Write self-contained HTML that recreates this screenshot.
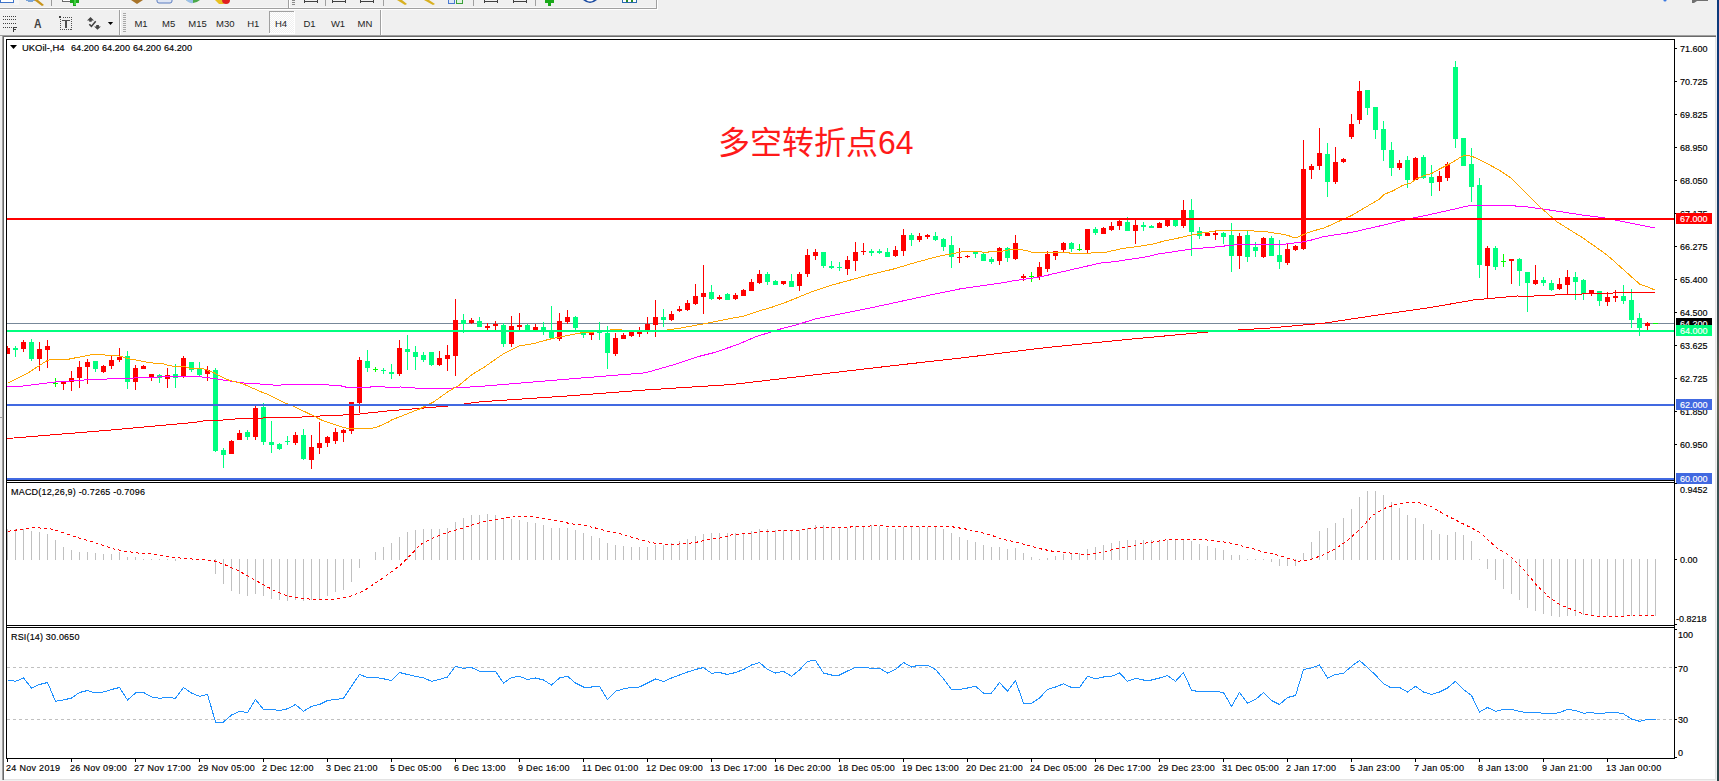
<!DOCTYPE html>
<html><head><meta charset="utf-8"><title>UKOil H4</title>
<style>html,body{margin:0;padding:0;background:#f0f0f0;} body{width:1719px;height:781px;overflow:hidden;} svg{display:block;} text{white-space:pre;}</style>
</head><body>
<svg width="1719" height="781" viewBox="0 0 1719 781" shape-rendering="crispEdges" font-family="'Liberation Sans', Arial, sans-serif">
<rect x="0" y="0" width="1719" height="781" fill="#f0f0f0"/>
<g id="tb1">
<rect x="0" y="7" width="657" height="1" fill="#f8f8f8"/>
<rect x="0" y="8" width="657" height="1" fill="#a0a0a0"/>
<rect x="0" y="9" width="658" height="1" fill="#ffffff"/>
<rect x="0" y="0" width="14" height="3" fill="#3f74c9"/>
<rect x="1" y="0" width="12" height="2" fill="#ffffff"/>
<rect x="14" y="0" width="5" height="5" fill="#f6f6f6"/>
<path d="M25 0 Q30 4 36 0 Z" fill="#7aa4d8"/>
<path d="M34 0 L38 0 L44 5 L42 6 Z" fill="#c8941a" shape-rendering="auto"/>
<rect x="51" y="0" width="1" height="6" fill="#9a9a9a"/>
<rect x="62" y="0" width="9" height="2" fill="#6a6a6a"/>
<rect x="63" y="0" width="7" height="1" fill="#ffffff"/>
<rect x="70" y="0" width="9" height="3" fill="#1aa81a"/>
<rect x="73" y="0" width="3" height="6" fill="#1aa81a"/>
<rect x="74" y="0" width="2" height="5" fill="#40d040"/>
<path d="M131 0 L143 0 L137 4 Z" fill="#a8742a" shape-rendering="auto"/>
<rect x="157" y="-4" width="15" height="7" rx="2" fill="#dfe6f4" stroke="#5a7cc0" shape-rendering="auto"/>
<path d="M186 0 Q193 6 200 0 Z" fill="#4aa84a" shape-rendering="auto"/><path d="M186 0 Q189 4 193 3 L193 0 Z" fill="#9cc0ea" shape-rendering="auto"/>
<path d="M215 0 L222 0 L224 4 L219 4 Z" fill="#e8c020" shape-rendering="auto"/><circle cx="226" cy="0" r="4" fill="#e02020" shape-rendering="auto"/>
<rect x="288" y="0" width="1" height="8" fill="#a0a0a0"/>
<rect x="289" y="0" width="1" height="8" fill="#ffffff"/>
<rect x="292" y="0" width="3" height="1" fill="#8a8a8a"/>
<rect x="292" y="2" width="3" height="1" fill="#8a8a8a"/>
<rect x="292" y="4" width="3" height="1" fill="#8a8a8a"/>
<rect x="304" y="1" width="14" height="1" fill="#404040"/>
<rect x="304" y="-1" width="1" height="4" fill="#404040"/>
<rect x="317" y="-1" width="1" height="4" fill="#404040"/>
<rect x="325" y="0" width="1" height="6" fill="#a0a0a0"/>
<rect x="332" y="1" width="14" height="1" fill="#404040"/>
<rect x="332" y="-1" width="1" height="4" fill="#404040"/>
<rect x="345" y="-1" width="1" height="4" fill="#404040"/>
<rect x="360" y="1" width="14" height="1" fill="#404040"/>
<rect x="360" y="-1" width="1" height="4" fill="#404040"/>
<rect x="373" y="-1" width="1" height="4" fill="#404040"/>
<rect x="383" y="0" width="1" height="6" fill="#a0a0a0"/>
<path d="M397 0 L402 0 L407 4 L405 5 Z" fill="#d8b020" shape-rendering="auto"/>
<path d="M424 0 L429 0 L435 4 L433 5 Z" fill="#d8b020" shape-rendering="auto"/>
<rect x="448" y="0" width="7" height="4" fill="#4a7ad0"/>
<rect x="449" y="0" width="5" height="3" fill="#dfe8f8"/>
<rect x="456" y="0" width="7" height="4" fill="#3aa03a"/>
<rect x="457" y="0" width="5" height="3" fill="#e0f4e0"/>
<rect x="473" y="0" width="1" height="6" fill="#a0a0a0"/>
<rect x="484" y="1" width="14" height="1" fill="#404040"/>
<rect x="484" y="-1" width="1" height="4" fill="#404040"/>
<rect x="497" y="-1" width="1" height="4" fill="#404040"/>
<rect x="513" y="1" width="14" height="1" fill="#404040"/>
<rect x="513" y="-1" width="1" height="4" fill="#404040"/>
<rect x="526" y="-1" width="1" height="4" fill="#404040"/>
<rect x="535" y="0" width="1" height="6" fill="#a0a0a0"/>
<rect x="545" y="0" width="9" height="3" fill="#1aa81a"/>
<rect x="548" y="0" width="3" height="6" fill="#1aa81a"/>
<path d="M583 0 Q590 6 597 0 Z" fill="#1a4aa0" shape-rendering="auto"/><path d="M586 0 Q590 3 594 0 Z" fill="#ffffff" shape-rendering="auto"/>
<rect x="622" y="0" width="15" height="3" fill="#2a6ab0"/>
<rect x="623" y="0" width="13" height="2" fill="#ffffff"/>
<rect x="626" y="0" width="2" height="2" fill="#2a8a2a"/>
<rect x="631" y="0" width="2" height="2" fill="#2a8a2a"/>
<rect x="656" y="0" width="1" height="9" fill="#a0a0a0"/>
<rect x="657" y="0" width="1" height="9" fill="#ffffff"/>
<circle cx="1665" cy="0" r="1.6" fill="#3a78e0" shape-rendering="auto"/>
<path d="M1692 0 L1700 0 L1708 0 L1708 1 L1697 1 L1694 3 L1692 3 Z" fill="#707070" shape-rendering="auto"/>
</g>
<g id="tb2">
<rect x="3" y="16" width="1" height="1" fill="#404040"/>
<rect x="5" y="16" width="1" height="1" fill="#404040"/>
<rect x="7" y="16" width="1" height="1" fill="#404040"/>
<rect x="9" y="16" width="1" height="1" fill="#404040"/>
<rect x="11" y="16" width="1" height="1" fill="#404040"/>
<rect x="13" y="16" width="1" height="1" fill="#404040"/>
<rect x="15" y="16" width="1" height="1" fill="#404040"/>
<rect x="3" y="19" width="1" height="1" fill="#404040"/>
<rect x="5" y="19" width="1" height="1" fill="#404040"/>
<rect x="7" y="19" width="1" height="1" fill="#404040"/>
<rect x="9" y="19" width="1" height="1" fill="#404040"/>
<rect x="11" y="19" width="1" height="1" fill="#404040"/>
<rect x="13" y="19" width="1" height="1" fill="#404040"/>
<rect x="15" y="19" width="1" height="1" fill="#404040"/>
<rect x="3" y="23" width="1" height="1" fill="#404040"/>
<rect x="5" y="23" width="1" height="1" fill="#404040"/>
<rect x="7" y="23" width="1" height="1" fill="#404040"/>
<rect x="9" y="23" width="1" height="1" fill="#404040"/>
<rect x="11" y="23" width="1" height="1" fill="#404040"/>
<rect x="13" y="23" width="1" height="1" fill="#404040"/>
<rect x="15" y="23" width="1" height="1" fill="#404040"/>
<rect x="3" y="27" width="1" height="1" fill="#404040"/>
<rect x="5" y="27" width="1" height="1" fill="#404040"/>
<rect x="7" y="27" width="1" height="1" fill="#404040"/>
<rect x="9" y="27" width="1" height="1" fill="#404040"/>
<rect x="11" y="27" width="1" height="1" fill="#404040"/>
<rect x="13" y="27" width="1" height="5" fill="#383838"/>
<rect x="13" y="27" width="4" height="1" fill="#404040"/>
<rect x="13" y="29" width="3" height="1" fill="#404040"/>
<text x="34" y="28" font-size="12.5" fill="#404040" font-weight="bold" textLength="7.5" lengthAdjust="spacingAndGlyphs">A</text>
<rect x="59" y="16" width="2" height="2" fill="#404040"/>
<rect x="63" y="17" width="1" height="1" fill="#505050"/>
<rect x="65" y="17" width="1" height="1" fill="#505050"/>
<rect x="67" y="17" width="1" height="1" fill="#505050"/>
<rect x="69" y="17" width="1" height="1" fill="#505050"/>
<rect x="71" y="17" width="1" height="1" fill="#505050"/>
<rect x="60" y="19" width="1" height="1" fill="#505050"/>
<rect x="71" y="19" width="1" height="1" fill="#505050"/>
<rect x="60" y="21" width="1" height="1" fill="#505050"/>
<rect x="71" y="21" width="1" height="1" fill="#505050"/>
<rect x="60" y="23" width="1" height="1" fill="#505050"/>
<rect x="71" y="23" width="1" height="1" fill="#505050"/>
<rect x="60" y="25" width="1" height="1" fill="#505050"/>
<rect x="71" y="25" width="1" height="1" fill="#505050"/>
<rect x="60" y="27" width="1" height="1" fill="#505050"/>
<rect x="71" y="27" width="1" height="1" fill="#505050"/>
<rect x="60" y="29" width="1" height="1" fill="#505050"/>
<rect x="71" y="29" width="1" height="1" fill="#505050"/>
<rect x="62" y="29" width="1" height="1" fill="#505050"/>
<rect x="64" y="29" width="1" height="1" fill="#505050"/>
<rect x="66" y="29" width="1" height="1" fill="#505050"/>
<rect x="68" y="29" width="1" height="1" fill="#505050"/>
<rect x="70" y="29" width="1" height="1" fill="#505050"/>
<rect x="62" y="20" width="8" height="1" fill="#505050"/>
<rect x="65" y="20" width="2" height="8" fill="#505050"/>
<path d="M87 20.5 L90.5 17 L94 20.5 L91.7 20.5 L91.7 21.7 L89.2 21.7 L89.2 20.5 Z" fill="#454545" shape-rendering="auto"/>
<path d="M96.2 25 L98.9 25 L98.9 26.4 L100.9 26.4 L97.5 29.8 L94.1 26.4 L96.2 26.4 Z" fill="#454545" shape-rendering="auto"/>
<path d="M89.3 24.3 L91.4 26.4 L95.7 21.3" stroke="#404040" stroke-width="1.6" fill="none" shape-rendering="auto"/>
<path d="M107.9 22 L113.1 22 L110.5 25 Z" fill="#000" shape-rendering="auto"/>
<rect x="119" y="10" width="1" height="25" fill="#a0a0a0"/>
<rect x="120" y="10" width="1" height="25" fill="#ffffff"/>
<rect x="123" y="13" width="3" height="1" fill="#a8a8a8"/>
<rect x="123" y="15" width="3" height="1" fill="#a8a8a8"/>
<rect x="123" y="17" width="3" height="1" fill="#a8a8a8"/>
<rect x="123" y="19" width="3" height="1" fill="#a8a8a8"/>
<rect x="123" y="21" width="3" height="1" fill="#a8a8a8"/>
<rect x="123" y="23" width="3" height="1" fill="#a8a8a8"/>
<rect x="123" y="25" width="3" height="1" fill="#a8a8a8"/>
<rect x="123" y="27" width="3" height="1" fill="#a8a8a8"/>
<rect x="123" y="29" width="3" height="1" fill="#a8a8a8"/>
<rect x="123" y="31" width="3" height="1" fill="#a8a8a8"/>
<defs><pattern id="chk" x="0" y="0" width="2" height="2" patternUnits="userSpaceOnUse"><rect width="2" height="2" fill="#f0f0f0"/><rect width="1" height="1" fill="#ffffff"/><rect x="1" y="1" width="1" height="1" fill="#ffffff"/></pattern></defs>
<rect x="270" y="12" width="24" height="21" fill="url(#chk)"/>
<rect x="269" y="11" width="25" height="1" fill="#a0a0a0"/>
<rect x="269" y="11" width="1" height="22" fill="#a0a0a0"/>
<rect x="294" y="11" width="1" height="23" fill="#ffffff"/>
<rect x="269" y="33" width="26" height="1" fill="#ffffff"/>
<text x="141" y="27" font-size="9.5" fill="#1e1e1e" text-anchor="middle">M1</text>
<text x="168.6" y="27" font-size="9.5" fill="#1e1e1e" text-anchor="middle">M5</text>
<text x="197.5" y="27" font-size="9.5" fill="#1e1e1e" text-anchor="middle">M15</text>
<text x="225.3" y="27" font-size="9.5" fill="#1e1e1e" text-anchor="middle">M30</text>
<text x="253.3" y="27" font-size="9.5" fill="#1e1e1e" text-anchor="middle">H1</text>
<text x="281" y="27" font-size="9.5" fill="#1e1e1e" text-anchor="middle">H4</text>
<text x="309.5" y="27" font-size="9.5" fill="#1e1e1e" text-anchor="middle">D1</text>
<text x="338" y="27" font-size="9.5" fill="#1e1e1e" text-anchor="middle">W1</text>
<text x="365" y="27" font-size="9.5" fill="#1e1e1e" text-anchor="middle">MN</text>
<rect x="380" y="10" width="1" height="25" fill="#a0a0a0"/>
<rect x="381" y="10" width="1" height="25" fill="#ffffff"/>
</g>
<rect x="0" y="35" width="1716" height="1" fill="#a0a0a0"/>
<rect x="2" y="36" width="1714" height="1" fill="#696969"/>
<rect x="2" y="35" width="1" height="745" fill="#a0a0a0"/>
<rect x="3" y="36" width="1" height="744" fill="#696969"/>
<rect x="4" y="37" width="1711" height="742" fill="#ffffff"/>
<rect x="4" y="779" width="1712" height="1" fill="#e3e3e3"/>
<rect x="1715" y="37" width="1" height="743" fill="#e3e3e3"/>
<rect x="1716" y="0" width="1" height="781" fill="#f0f0f0"/>
<defs><linearGradient id="edge" x1="0" y1="0" x2="0" y2="1"><stop offset="0" stop-color="#0c3a7c"/><stop offset="0.22" stop-color="#123a70"/><stop offset="0.4" stop-color="#3c4c52"/><stop offset="0.5" stop-color="#6a6a58"/><stop offset="0.62" stop-color="#3a5252"/><stop offset="0.78" stop-color="#345a58"/><stop offset="1" stop-color="#2a4448"/></linearGradient></defs>
<rect x="1717" y="0" width="2" height="781" fill="url(#edge)"/>
<rect x="0" y="417" width="2" height="1" fill="#a0a0a0"/>
<defs>
<clipPath id="cm"><rect x="7" y="40" width="1667" height="440"/></clipPath>
<clipPath id="cd"><rect x="7" y="483" width="1667" height="142"/></clipPath>
<clipPath id="cr"><rect x="7" y="628" width="1667" height="130"/></clipPath>
</defs>
<g clip-path="url(#cm)">
<rect x="7" y="323" width="1667" height="1" fill="#778899"/>
<rect x="7" y="346" width="1" height="8" fill="#ff0000"/>
<rect x="5" y="348" width="5" height="6" fill="#ff0000"/>
<rect x="15" y="346" width="1" height="11" fill="#00ff7f"/>
<rect x="13" y="348" width="5" height="2" fill="#00ff7f"/>
<rect x="23" y="340" width="1" height="12" fill="#ff0000"/>
<rect x="21" y="342" width="5" height="7" fill="#ff0000"/>
<rect x="31" y="339" width="1" height="22" fill="#00ff7f"/>
<rect x="29" y="342" width="5" height="17" fill="#00ff7f"/>
<rect x="39" y="342" width="1" height="29" fill="#ff0000"/>
<rect x="37" y="349" width="5" height="10" fill="#ff0000"/>
<rect x="47" y="340" width="1" height="28" fill="#ff0000"/>
<rect x="45" y="346" width="5" height="4" fill="#ff0000"/>
<rect x="55" y="378" width="1" height="9" fill="#00ff00"/>
<rect x="53" y="383" width="5" height="1" fill="#00ff00"/>
<rect x="63" y="382" width="1" height="8" fill="#ff0000"/>
<rect x="61" y="382" width="5" height="2" fill="#ff0000"/>
<rect x="71" y="371" width="1" height="20" fill="#ff0000"/>
<rect x="69" y="378" width="5" height="4" fill="#ff0000"/>
<rect x="79" y="361" width="1" height="27" fill="#ff0000"/>
<rect x="77" y="367" width="5" height="11" fill="#ff0000"/>
<rect x="87" y="359" width="1" height="25" fill="#ff0000"/>
<rect x="85" y="362" width="5" height="5" fill="#ff0000"/>
<rect x="95" y="361" width="1" height="11" fill="#00ff7f"/>
<rect x="93" y="361" width="5" height="8" fill="#00ff7f"/>
<rect x="103" y="365" width="1" height="8" fill="#ff0000"/>
<rect x="101" y="366" width="5" height="6" fill="#ff0000"/>
<rect x="111" y="356" width="1" height="13" fill="#ff0000"/>
<rect x="109" y="360" width="5" height="6" fill="#ff0000"/>
<rect x="119" y="348" width="1" height="14" fill="#ff0000"/>
<rect x="117" y="357" width="5" height="3" fill="#ff0000"/>
<rect x="127" y="351" width="1" height="38" fill="#00ff7f"/>
<rect x="125" y="356" width="5" height="26" fill="#00ff7f"/>
<rect x="135" y="365" width="1" height="25" fill="#ff0000"/>
<rect x="133" y="368" width="5" height="14" fill="#ff0000"/>
<rect x="143" y="365" width="1" height="4" fill="#ff0000"/>
<rect x="141" y="366" width="5" height="3" fill="#ff0000"/>
<rect x="151" y="374" width="1" height="7" fill="#ff0000"/>
<rect x="149" y="374" width="5" height="3" fill="#ff0000"/>
<rect x="159" y="374" width="1" height="9" fill="#00ff7f"/>
<rect x="157" y="375" width="5" height="3" fill="#00ff7f"/>
<rect x="167" y="368" width="1" height="20" fill="#ff0000"/>
<rect x="165" y="375" width="5" height="4" fill="#ff0000"/>
<rect x="175" y="364" width="1" height="24" fill="#00ff7f"/>
<rect x="173" y="374" width="5" height="4" fill="#00ff7f"/>
<rect x="183" y="356" width="1" height="22" fill="#ff0000"/>
<rect x="181" y="358" width="5" height="18" fill="#ff0000"/>
<rect x="191" y="362" width="1" height="10" fill="#00ff7f"/>
<rect x="189" y="362" width="5" height="8" fill="#00ff7f"/>
<rect x="199" y="362" width="1" height="14" fill="#00ff7f"/>
<rect x="197" y="368" width="5" height="7" fill="#00ff7f"/>
<rect x="207" y="366" width="1" height="15" fill="#ff0000"/>
<rect x="205" y="370" width="5" height="4" fill="#ff0000"/>
<rect x="215" y="368" width="1" height="84" fill="#00ff7f"/>
<rect x="213" y="370" width="5" height="81" fill="#00ff7f"/>
<rect x="223" y="448" width="1" height="20" fill="#00ff7f"/>
<rect x="221" y="450" width="5" height="5" fill="#00ff7f"/>
<rect x="231" y="440" width="1" height="14" fill="#ff0000"/>
<rect x="229" y="441" width="5" height="13" fill="#ff0000"/>
<rect x="239" y="430" width="1" height="10" fill="#ff0000"/>
<rect x="237" y="433" width="5" height="7" fill="#ff0000"/>
<rect x="247" y="430" width="1" height="10" fill="#00ff7f"/>
<rect x="245" y="432" width="5" height="5" fill="#00ff7f"/>
<rect x="255" y="406" width="1" height="34" fill="#ff0000"/>
<rect x="253" y="408" width="5" height="29" fill="#ff0000"/>
<rect x="263" y="403" width="1" height="42" fill="#00ff7f"/>
<rect x="261" y="407" width="5" height="35" fill="#00ff7f"/>
<rect x="271" y="421" width="1" height="32" fill="#00ff7f"/>
<rect x="269" y="442" width="5" height="3" fill="#00ff7f"/>
<rect x="279" y="443" width="1" height="7" fill="#00ff7f"/>
<rect x="277" y="444" width="5" height="5" fill="#00ff7f"/>
<rect x="287" y="436" width="1" height="9" fill="#00ff7f"/>
<rect x="285" y="441" width="5" height="1" fill="#00ff7f"/>
<rect x="295" y="432" width="1" height="13" fill="#ff0000"/>
<rect x="293" y="435" width="5" height="8" fill="#ff0000"/>
<rect x="303" y="429" width="1" height="31" fill="#00ff7f"/>
<rect x="301" y="435" width="5" height="24" fill="#00ff7f"/>
<rect x="311" y="435" width="1" height="34" fill="#ff0000"/>
<rect x="309" y="447" width="5" height="13" fill="#ff0000"/>
<rect x="319" y="422" width="1" height="32" fill="#ff0000"/>
<rect x="317" y="443" width="5" height="5" fill="#ff0000"/>
<rect x="327" y="436" width="1" height="11" fill="#ff0000"/>
<rect x="325" y="437" width="5" height="6" fill="#ff0000"/>
<rect x="335" y="428" width="1" height="16" fill="#ff0000"/>
<rect x="333" y="432" width="5" height="9" fill="#ff0000"/>
<rect x="343" y="429" width="1" height="13" fill="#ff0000"/>
<rect x="341" y="430" width="5" height="3" fill="#ff0000"/>
<rect x="351" y="402" width="1" height="32" fill="#ff0000"/>
<rect x="349" y="402" width="5" height="29" fill="#ff0000"/>
<rect x="359" y="357" width="1" height="56" fill="#ff0000"/>
<rect x="357" y="360" width="5" height="43" fill="#ff0000"/>
<rect x="367" y="350" width="1" height="22" fill="#00ff7f"/>
<rect x="365" y="361" width="5" height="7" fill="#00ff7f"/>
<rect x="375" y="367" width="1" height="5" fill="#00ff00"/>
<rect x="373" y="369" width="5" height="1" fill="#00ff00"/>
<rect x="383" y="368" width="1" height="6" fill="#00ff7f"/>
<rect x="381" y="370" width="5" height="1" fill="#00ff7f"/>
<rect x="391" y="364" width="1" height="15" fill="#00ff7f"/>
<rect x="389" y="372" width="5" height="2" fill="#00ff7f"/>
<rect x="399" y="340" width="1" height="36" fill="#ff0000"/>
<rect x="397" y="348" width="5" height="26" fill="#ff0000"/>
<rect x="407" y="335" width="1" height="35" fill="#00ff7f"/>
<rect x="405" y="349" width="5" height="3" fill="#00ff7f"/>
<rect x="415" y="346" width="1" height="24" fill="#00ff7f"/>
<rect x="413" y="352" width="5" height="5" fill="#00ff7f"/>
<rect x="423" y="352" width="1" height="10" fill="#00ff7f"/>
<rect x="421" y="355" width="5" height="5" fill="#00ff7f"/>
<rect x="431" y="352" width="1" height="14" fill="#00ff7f"/>
<rect x="429" y="352" width="5" height="13" fill="#00ff7f"/>
<rect x="439" y="351" width="1" height="15" fill="#ff0000"/>
<rect x="437" y="358" width="5" height="7" fill="#ff0000"/>
<rect x="447" y="345" width="1" height="26" fill="#ff0000"/>
<rect x="445" y="355" width="5" height="4" fill="#ff0000"/>
<rect x="455" y="299" width="1" height="77" fill="#ff0000"/>
<rect x="453" y="320" width="5" height="36" fill="#ff0000"/>
<rect x="463" y="314" width="1" height="19" fill="#00ff7f"/>
<rect x="461" y="320" width="5" height="4" fill="#00ff7f"/>
<rect x="471" y="318" width="1" height="6" fill="#ff0000"/>
<rect x="469" y="320" width="5" height="3" fill="#ff0000"/>
<rect x="479" y="317" width="1" height="10" fill="#00ff7f"/>
<rect x="477" y="321" width="5" height="6" fill="#00ff7f"/>
<rect x="487" y="323" width="1" height="7" fill="#ff0000"/>
<rect x="485" y="326" width="5" height="2" fill="#ff0000"/>
<rect x="495" y="321" width="1" height="9" fill="#ff0000"/>
<rect x="493" y="324" width="5" height="2" fill="#ff0000"/>
<rect x="503" y="323" width="1" height="24" fill="#00ff7f"/>
<rect x="501" y="325" width="5" height="19" fill="#00ff7f"/>
<rect x="511" y="316" width="1" height="31" fill="#ff0000"/>
<rect x="509" y="326" width="5" height="18" fill="#ff0000"/>
<rect x="519" y="313" width="1" height="17" fill="#ff0000"/>
<rect x="517" y="325" width="5" height="2" fill="#ff0000"/>
<rect x="527" y="324" width="1" height="6" fill="#00ff7f"/>
<rect x="525" y="325" width="5" height="5" fill="#00ff7f"/>
<rect x="535" y="324" width="1" height="6" fill="#ff0000"/>
<rect x="533" y="327" width="5" height="3" fill="#ff0000"/>
<rect x="543" y="322" width="1" height="13" fill="#00ff7f"/>
<rect x="541" y="327" width="5" height="3" fill="#00ff7f"/>
<rect x="551" y="306" width="1" height="33" fill="#00ff7f"/>
<rect x="549" y="330" width="5" height="8" fill="#00ff7f"/>
<rect x="559" y="313" width="1" height="28" fill="#ff0000"/>
<rect x="557" y="321" width="5" height="18" fill="#ff0000"/>
<rect x="567" y="310" width="1" height="14" fill="#ff0000"/>
<rect x="565" y="317" width="5" height="5" fill="#ff0000"/>
<rect x="575" y="316" width="1" height="14" fill="#00ff7f"/>
<rect x="573" y="317" width="5" height="11" fill="#00ff7f"/>
<rect x="583" y="330" width="1" height="8" fill="#00ff7f"/>
<rect x="581" y="330" width="5" height="5" fill="#00ff7f"/>
<rect x="591" y="332" width="1" height="8" fill="#ff0000"/>
<rect x="589" y="332" width="5" height="3" fill="#ff0000"/>
<rect x="599" y="322" width="1" height="18" fill="#00ff7f"/>
<rect x="597" y="332" width="5" height="1" fill="#00ff7f"/>
<rect x="607" y="326" width="1" height="43" fill="#00ff7f"/>
<rect x="605" y="333" width="5" height="20" fill="#00ff7f"/>
<rect x="615" y="333" width="1" height="23" fill="#ff0000"/>
<rect x="613" y="338" width="5" height="16" fill="#ff0000"/>
<rect x="623" y="333" width="1" height="6" fill="#ff0000"/>
<rect x="621" y="335" width="5" height="4" fill="#ff0000"/>
<rect x="631" y="332" width="1" height="5" fill="#ff0000"/>
<rect x="629" y="332" width="5" height="4" fill="#ff0000"/>
<rect x="639" y="327" width="1" height="10" fill="#ff0000"/>
<rect x="637" y="332" width="5" height="2" fill="#ff0000"/>
<rect x="647" y="317" width="1" height="17" fill="#ff0000"/>
<rect x="645" y="324" width="5" height="6" fill="#ff0000"/>
<rect x="655" y="300" width="1" height="37" fill="#ff0000"/>
<rect x="653" y="317" width="5" height="8" fill="#ff0000"/>
<rect x="663" y="309" width="1" height="18" fill="#00ff7f"/>
<rect x="661" y="317" width="5" height="3" fill="#00ff7f"/>
<rect x="671" y="311" width="1" height="10" fill="#ff0000"/>
<rect x="669" y="314" width="5" height="6" fill="#ff0000"/>
<rect x="679" y="306" width="1" height="6" fill="#ff0000"/>
<rect x="677" y="309" width="5" height="2" fill="#ff0000"/>
<rect x="687" y="300" width="1" height="11" fill="#ff0000"/>
<rect x="685" y="303" width="5" height="7" fill="#ff0000"/>
<rect x="695" y="284" width="1" height="21" fill="#ff0000"/>
<rect x="693" y="296" width="5" height="8" fill="#ff0000"/>
<rect x="703" y="265" width="1" height="49" fill="#ff0000"/>
<rect x="701" y="293" width="5" height="4" fill="#ff0000"/>
<rect x="711" y="285" width="1" height="15" fill="#00ff7f"/>
<rect x="709" y="292" width="5" height="7" fill="#00ff7f"/>
<rect x="719" y="295" width="1" height="5" fill="#ff0000"/>
<rect x="717" y="297" width="5" height="2" fill="#ff0000"/>
<rect x="727" y="293" width="1" height="7" fill="#00ff7f"/>
<rect x="725" y="294" width="5" height="6" fill="#00ff7f"/>
<rect x="735" y="293" width="1" height="7" fill="#ff0000"/>
<rect x="733" y="295" width="5" height="4" fill="#ff0000"/>
<rect x="743" y="289" width="1" height="7" fill="#ff0000"/>
<rect x="741" y="290" width="5" height="6" fill="#ff0000"/>
<rect x="751" y="279" width="1" height="12" fill="#ff0000"/>
<rect x="749" y="282" width="5" height="9" fill="#ff0000"/>
<rect x="759" y="270" width="1" height="14" fill="#ff0000"/>
<rect x="757" y="274" width="5" height="9" fill="#ff0000"/>
<rect x="767" y="272" width="1" height="13" fill="#00ff7f"/>
<rect x="765" y="274" width="5" height="8" fill="#00ff7f"/>
<rect x="775" y="280" width="1" height="5" fill="#00ff7f"/>
<rect x="773" y="281" width="5" height="4" fill="#00ff7f"/>
<rect x="783" y="281" width="1" height="4" fill="#ff0000"/>
<rect x="781" y="281" width="5" height="3" fill="#ff0000"/>
<rect x="791" y="274" width="1" height="13" fill="#00ff7f"/>
<rect x="789" y="281" width="5" height="6" fill="#00ff7f"/>
<rect x="799" y="272" width="1" height="19" fill="#ff0000"/>
<rect x="797" y="274" width="5" height="12" fill="#ff0000"/>
<rect x="807" y="249" width="1" height="28" fill="#ff0000"/>
<rect x="805" y="255" width="5" height="19" fill="#ff0000"/>
<rect x="815" y="249" width="1" height="11" fill="#ff0000"/>
<rect x="813" y="252" width="5" height="4" fill="#ff0000"/>
<rect x="823" y="252" width="1" height="16" fill="#00ff7f"/>
<rect x="821" y="252" width="5" height="14" fill="#00ff7f"/>
<rect x="831" y="261" width="1" height="8" fill="#00ff7f"/>
<rect x="829" y="266" width="5" height="2" fill="#00ff7f"/>
<rect x="839" y="262" width="1" height="9" fill="#00ff7f"/>
<rect x="837" y="267" width="5" height="1" fill="#00ff7f"/>
<rect x="847" y="256" width="1" height="19" fill="#ff0000"/>
<rect x="845" y="260" width="5" height="9" fill="#ff0000"/>
<rect x="855" y="242" width="1" height="29" fill="#ff0000"/>
<rect x="853" y="252" width="5" height="9" fill="#ff0000"/>
<rect x="863" y="243" width="1" height="12" fill="#ff0000"/>
<rect x="861" y="251" width="5" height="1" fill="#ff0000"/>
<rect x="871" y="249" width="1" height="7" fill="#00ff7f"/>
<rect x="869" y="251" width="5" height="2" fill="#00ff7f"/>
<rect x="879" y="249" width="1" height="5" fill="#00ff7f"/>
<rect x="877" y="251" width="5" height="2" fill="#00ff7f"/>
<rect x="887" y="248" width="1" height="9" fill="#00ff7f"/>
<rect x="885" y="252" width="5" height="5" fill="#00ff7f"/>
<rect x="895" y="246" width="1" height="11" fill="#ff0000"/>
<rect x="893" y="250" width="5" height="6" fill="#ff0000"/>
<rect x="903" y="229" width="1" height="27" fill="#ff0000"/>
<rect x="901" y="235" width="5" height="16" fill="#ff0000"/>
<rect x="911" y="233" width="1" height="13" fill="#00ff7f"/>
<rect x="909" y="235" width="5" height="5" fill="#00ff7f"/>
<rect x="919" y="233" width="1" height="9" fill="#ff0000"/>
<rect x="917" y="236" width="5" height="4" fill="#ff0000"/>
<rect x="927" y="234" width="1" height="5" fill="#ff0000"/>
<rect x="925" y="235" width="5" height="2" fill="#ff0000"/>
<rect x="935" y="232" width="1" height="9" fill="#00ff7f"/>
<rect x="933" y="236" width="5" height="4" fill="#00ff7f"/>
<rect x="943" y="238" width="1" height="13" fill="#00ff7f"/>
<rect x="941" y="239" width="5" height="8" fill="#00ff7f"/>
<rect x="951" y="236" width="1" height="32" fill="#00ff7f"/>
<rect x="949" y="245" width="5" height="12" fill="#00ff7f"/>
<rect x="959" y="248" width="1" height="15" fill="#ff0000"/>
<rect x="957" y="257" width="5" height="1" fill="#ff0000"/>
<rect x="967" y="255" width="1" height="3" fill="#ff0000"/>
<rect x="965" y="256" width="5" height="1" fill="#ff0000"/>
<rect x="975" y="251" width="1" height="7" fill="#00ff7f"/>
<rect x="973" y="252" width="5" height="2" fill="#00ff7f"/>
<rect x="983" y="253" width="1" height="8" fill="#00ff7f"/>
<rect x="981" y="254" width="5" height="7" fill="#00ff7f"/>
<rect x="991" y="257" width="1" height="7" fill="#00ff7f"/>
<rect x="989" y="259" width="5" height="3" fill="#00ff7f"/>
<rect x="999" y="247" width="1" height="18" fill="#ff0000"/>
<rect x="997" y="248" width="5" height="13" fill="#ff0000"/>
<rect x="1007" y="247" width="1" height="15" fill="#00ff7f"/>
<rect x="1005" y="248" width="5" height="10" fill="#00ff7f"/>
<rect x="1015" y="235" width="1" height="25" fill="#ff0000"/>
<rect x="1013" y="243" width="5" height="16" fill="#ff0000"/>
<rect x="1023" y="274" width="1" height="7" fill="#ff0000"/>
<rect x="1021" y="276" width="5" height="2" fill="#ff0000"/>
<rect x="1031" y="272" width="1" height="10" fill="#00ff00"/>
<rect x="1029" y="276" width="5" height="1" fill="#00ff00"/>
<rect x="1039" y="262" width="1" height="18" fill="#ff0000"/>
<rect x="1037" y="267" width="5" height="10" fill="#ff0000"/>
<rect x="1047" y="251" width="1" height="21" fill="#ff0000"/>
<rect x="1045" y="254" width="5" height="15" fill="#ff0000"/>
<rect x="1055" y="251" width="1" height="9" fill="#ff0000"/>
<rect x="1053" y="251" width="5" height="5" fill="#ff0000"/>
<rect x="1063" y="242" width="1" height="10" fill="#ff0000"/>
<rect x="1061" y="243" width="5" height="7" fill="#ff0000"/>
<rect x="1071" y="242" width="1" height="10" fill="#00ff7f"/>
<rect x="1069" y="243" width="5" height="6" fill="#00ff7f"/>
<rect x="1079" y="244" width="1" height="7" fill="#00ff00"/>
<rect x="1077" y="249" width="5" height="1" fill="#00ff00"/>
<rect x="1087" y="229" width="1" height="24" fill="#ff0000"/>
<rect x="1085" y="229" width="5" height="21" fill="#ff0000"/>
<rect x="1095" y="227" width="1" height="8" fill="#00ff7f"/>
<rect x="1093" y="229" width="5" height="4" fill="#00ff7f"/>
<rect x="1103" y="227" width="1" height="7" fill="#ff0000"/>
<rect x="1101" y="228" width="5" height="6" fill="#ff0000"/>
<rect x="1111" y="222" width="1" height="9" fill="#ff0000"/>
<rect x="1109" y="226" width="5" height="4" fill="#ff0000"/>
<rect x="1119" y="218" width="1" height="12" fill="#ff0000"/>
<rect x="1117" y="221" width="5" height="5" fill="#ff0000"/>
<rect x="1127" y="217" width="1" height="14" fill="#00ff7f"/>
<rect x="1125" y="222" width="5" height="9" fill="#00ff7f"/>
<rect x="1135" y="218" width="1" height="26" fill="#ff0000"/>
<rect x="1133" y="225" width="5" height="6" fill="#ff0000"/>
<rect x="1143" y="222" width="1" height="9" fill="#00ff7f"/>
<rect x="1141" y="225" width="5" height="2" fill="#00ff7f"/>
<rect x="1151" y="225" width="1" height="3" fill="#00ff7f"/>
<rect x="1149" y="226" width="5" height="2" fill="#00ff7f"/>
<rect x="1159" y="222" width="1" height="6" fill="#ff0000"/>
<rect x="1157" y="223" width="5" height="5" fill="#ff0000"/>
<rect x="1167" y="218" width="1" height="9" fill="#ff0000"/>
<rect x="1165" y="219" width="5" height="7" fill="#ff0000"/>
<rect x="1175" y="219" width="1" height="8" fill="#00ff7f"/>
<rect x="1173" y="220" width="5" height="6" fill="#00ff7f"/>
<rect x="1183" y="200" width="1" height="28" fill="#ff0000"/>
<rect x="1181" y="210" width="5" height="16" fill="#ff0000"/>
<rect x="1191" y="199" width="1" height="57" fill="#00ff7f"/>
<rect x="1189" y="210" width="5" height="22" fill="#00ff7f"/>
<rect x="1199" y="227" width="1" height="12" fill="#00ff7f"/>
<rect x="1197" y="231" width="5" height="5" fill="#00ff7f"/>
<rect x="1207" y="232" width="1" height="4" fill="#ff0000"/>
<rect x="1205" y="233" width="5" height="3" fill="#ff0000"/>
<rect x="1215" y="230" width="1" height="10" fill="#ff0000"/>
<rect x="1213" y="233" width="5" height="2" fill="#ff0000"/>
<rect x="1223" y="232" width="1" height="12" fill="#00ff7f"/>
<rect x="1221" y="233" width="5" height="4" fill="#00ff7f"/>
<rect x="1231" y="223" width="1" height="49" fill="#00ff7f"/>
<rect x="1229" y="235" width="5" height="21" fill="#00ff7f"/>
<rect x="1239" y="233" width="1" height="36" fill="#ff0000"/>
<rect x="1237" y="236" width="5" height="20" fill="#ff0000"/>
<rect x="1247" y="231" width="1" height="31" fill="#00ff7f"/>
<rect x="1245" y="235" width="5" height="22" fill="#00ff7f"/>
<rect x="1255" y="242" width="1" height="15" fill="#00ff7f"/>
<rect x="1253" y="247" width="5" height="4" fill="#00ff7f"/>
<rect x="1263" y="237" width="1" height="21" fill="#ff0000"/>
<rect x="1261" y="238" width="5" height="19" fill="#ff0000"/>
<rect x="1271" y="236" width="1" height="20" fill="#00ff7f"/>
<rect x="1269" y="238" width="5" height="18" fill="#00ff7f"/>
<rect x="1279" y="240" width="1" height="29" fill="#00ff7f"/>
<rect x="1277" y="255" width="5" height="7" fill="#00ff7f"/>
<rect x="1287" y="244" width="1" height="21" fill="#ff0000"/>
<rect x="1285" y="249" width="5" height="14" fill="#ff0000"/>
<rect x="1295" y="245" width="1" height="6" fill="#ff0000"/>
<rect x="1293" y="246" width="5" height="4" fill="#ff0000"/>
<rect x="1303" y="140" width="1" height="110" fill="#ff0000"/>
<rect x="1301" y="169" width="5" height="80" fill="#ff0000"/>
<rect x="1311" y="164" width="1" height="15" fill="#ff0000"/>
<rect x="1309" y="166" width="5" height="4" fill="#ff0000"/>
<rect x="1319" y="128" width="1" height="42" fill="#ff0000"/>
<rect x="1317" y="153" width="5" height="13" fill="#ff0000"/>
<rect x="1327" y="143" width="1" height="54" fill="#00ff7f"/>
<rect x="1325" y="154" width="5" height="28" fill="#00ff7f"/>
<rect x="1335" y="147" width="1" height="37" fill="#ff0000"/>
<rect x="1333" y="162" width="5" height="20" fill="#ff0000"/>
<rect x="1343" y="158" width="1" height="5" fill="#ff0000"/>
<rect x="1341" y="159" width="5" height="3" fill="#ff0000"/>
<rect x="1351" y="114" width="1" height="25" fill="#ff0000"/>
<rect x="1349" y="124" width="5" height="13" fill="#ff0000"/>
<rect x="1359" y="81" width="1" height="43" fill="#ff0000"/>
<rect x="1357" y="91" width="5" height="29" fill="#ff0000"/>
<rect x="1367" y="90" width="1" height="25" fill="#00ff7f"/>
<rect x="1365" y="90" width="5" height="18" fill="#00ff7f"/>
<rect x="1375" y="107" width="1" height="32" fill="#00ff7f"/>
<rect x="1373" y="107" width="5" height="23" fill="#00ff7f"/>
<rect x="1383" y="121" width="1" height="40" fill="#00ff7f"/>
<rect x="1381" y="129" width="5" height="21" fill="#00ff7f"/>
<rect x="1391" y="142" width="1" height="34" fill="#00ff7f"/>
<rect x="1389" y="150" width="5" height="18" fill="#00ff7f"/>
<rect x="1399" y="160" width="1" height="10" fill="#ff0000"/>
<rect x="1397" y="163" width="5" height="5" fill="#ff0000"/>
<rect x="1407" y="156" width="1" height="32" fill="#00ff7f"/>
<rect x="1405" y="160" width="5" height="20" fill="#00ff7f"/>
<rect x="1415" y="157" width="1" height="23" fill="#ff0000"/>
<rect x="1413" y="158" width="5" height="22" fill="#ff0000"/>
<rect x="1423" y="155" width="1" height="24" fill="#00ff7f"/>
<rect x="1421" y="157" width="5" height="21" fill="#00ff7f"/>
<rect x="1431" y="165" width="1" height="31" fill="#00ff7f"/>
<rect x="1429" y="177" width="5" height="6" fill="#00ff7f"/>
<rect x="1439" y="171" width="1" height="20" fill="#ff0000"/>
<rect x="1437" y="176" width="5" height="6" fill="#ff0000"/>
<rect x="1447" y="162" width="1" height="19" fill="#ff0000"/>
<rect x="1445" y="164" width="5" height="14" fill="#ff0000"/>
<rect x="1455" y="61" width="1" height="87" fill="#00ff7f"/>
<rect x="1453" y="67" width="5" height="72" fill="#00ff7f"/>
<rect x="1463" y="138" width="1" height="28" fill="#00ff7f"/>
<rect x="1461" y="138" width="5" height="28" fill="#00ff7f"/>
<rect x="1471" y="148" width="1" height="54" fill="#00ff7f"/>
<rect x="1469" y="164" width="5" height="23" fill="#00ff7f"/>
<rect x="1479" y="178" width="1" height="100" fill="#00ff7f"/>
<rect x="1477" y="185" width="5" height="80" fill="#00ff7f"/>
<rect x="1487" y="246" width="1" height="52" fill="#ff0000"/>
<rect x="1485" y="248" width="5" height="18" fill="#ff0000"/>
<rect x="1495" y="246" width="1" height="24" fill="#00ff7f"/>
<rect x="1493" y="248" width="5" height="19" fill="#00ff7f"/>
<rect x="1503" y="254" width="1" height="13" fill="#00ff00"/>
<rect x="1501" y="261" width="5" height="1" fill="#00ff00"/>
<rect x="1511" y="259" width="1" height="25" fill="#ff0000"/>
<rect x="1509" y="259" width="5" height="2" fill="#ff0000"/>
<rect x="1519" y="258" width="1" height="28" fill="#00ff7f"/>
<rect x="1517" y="259" width="5" height="12" fill="#00ff7f"/>
<rect x="1527" y="272" width="1" height="40" fill="#00ff7f"/>
<rect x="1525" y="272" width="5" height="11" fill="#00ff7f"/>
<rect x="1535" y="265" width="1" height="20" fill="#ff0000"/>
<rect x="1533" y="280" width="5" height="4" fill="#ff0000"/>
<rect x="1543" y="277" width="1" height="9" fill="#00ff7f"/>
<rect x="1541" y="280" width="5" height="3" fill="#00ff7f"/>
<rect x="1551" y="280" width="1" height="11" fill="#00ff7f"/>
<rect x="1549" y="283" width="5" height="7" fill="#00ff7f"/>
<rect x="1559" y="278" width="1" height="12" fill="#ff0000"/>
<rect x="1557" y="284" width="5" height="5" fill="#ff0000"/>
<rect x="1567" y="270" width="1" height="24" fill="#ff0000"/>
<rect x="1565" y="277" width="5" height="8" fill="#ff0000"/>
<rect x="1575" y="272" width="1" height="28" fill="#00ff7f"/>
<rect x="1573" y="277" width="5" height="5" fill="#00ff7f"/>
<rect x="1583" y="279" width="1" height="21" fill="#00ff7f"/>
<rect x="1581" y="280" width="5" height="14" fill="#00ff7f"/>
<rect x="1591" y="290" width="1" height="6" fill="#ff0000"/>
<rect x="1589" y="290" width="5" height="3" fill="#ff0000"/>
<rect x="1599" y="291" width="1" height="15" fill="#00ff7f"/>
<rect x="1597" y="291" width="5" height="10" fill="#00ff7f"/>
<rect x="1607" y="292" width="1" height="14" fill="#ff0000"/>
<rect x="1605" y="297" width="5" height="5" fill="#ff0000"/>
<rect x="1615" y="290" width="1" height="12" fill="#ff0000"/>
<rect x="1613" y="296" width="5" height="2" fill="#ff0000"/>
<rect x="1623" y="285" width="1" height="19" fill="#00ff7f"/>
<rect x="1621" y="296" width="5" height="5" fill="#00ff7f"/>
<rect x="1631" y="289" width="1" height="39" fill="#00ff7f"/>
<rect x="1629" y="300" width="5" height="20" fill="#00ff7f"/>
<rect x="1639" y="313" width="1" height="23" fill="#00ff7f"/>
<rect x="1637" y="318" width="5" height="10" fill="#00ff7f"/>
<rect x="1647" y="322" width="1" height="8" fill="#ff0000"/>
<rect x="1645" y="323" width="5" height="3" fill="#ff0000"/>
<rect x="1653" y="323" width="5" height="1" fill="#00ff00"/>
<polyline points="7.5,438.5 112.5,429.9 192.5,422.6 203.5,421.0 219.0,420.3 235.2,419.0 251.5,418.5 275.0,417.5 298.1,417.2 331.5,415.4 355.5,414.6 363.5,413.5 388.5,410.9 447.5,406.1 480.5,401.8 564.3,396.2 648.1,389.8 731.9,384.5 815.7,374.7 899.5,364.9 960.5,358.1 1044.3,347.8 1128.1,339.4 1211.9,331.6 1267.8,328.2 1323.6,323.2 1379.5,314.8 1430.5,307.5 1474.0,299.9 1517.5,296.0 1530.5,296.2 1555.5,295.0 1587.5,293.8 1619.5,292.8 1655.5,292.5" fill="none" stroke="#ff0000" stroke-width="1"/>
<polyline points="7.5,386.6 19.5,386.4 27.5,385.5 35.5,384.5 43.5,383.5 51.5,382.4 59.5,381.5 67.5,381.2 75.5,380.5 87.5,379.8 100.5,379.5 115.5,378.4 130.5,378.4 140.5,377.4 154.5,377.4 165.5,376.3 196.5,376.3 214.5,378.6 229.5,381.0 244.0,383.0 260.2,384.0 276.5,385.3 292.5,384.3 323.5,384.3 332.5,385.5 339.5,385.5 345.5,387.0 370.5,387.0 378.5,386.6 388.5,387.2 400.5,387.0 419.5,388.3 447.5,388.3 480.5,386.4 564.3,379.4 644.3,372.9 649.9,371.5 672.2,365.2 700.1,356.1 714.1,352.6 737.8,344.5 756.0,336.6 769.9,332.4 778.3,329.6 797.9,324.4 815.7,318.8 871.5,307.7 927.5,295.6 960.5,288.8 1003.5,282.6 1014.0,280.7 1023.9,279.3 1030.9,278.4 1038.0,277.3 1045.0,275.9 1052.0,274.1 1060.5,272.2 1100.2,263.1 1115.5,261.6 1122.2,260.5 1129.5,259.4 1136.8,258.3 1144.1,257.2 1151.4,255.7 1156.5,254.3 1172.2,252.0 1182.1,250.4 1191.9,249.0 1201.8,248.1 1211.7,247.3 1221.5,246.3 1231.5,245.3 1240.5,244.3 1283.5,244.4 1290.5,243.4 1300.5,242.3 1308.5,240.8 1314.5,239.2 1323.6,236.6 1351.5,232.4 1379.5,226.0 1407.5,219.3 1430.5,214.4 1452.3,209.6 1470.8,205.3 1500.1,205.3 1524.1,206.4 1550.2,210.1 1582.8,215.1 1604.5,217.9 1626.3,222.2 1655.0,228.1" fill="none" stroke="#ff00ff" stroke-width="1"/>
<polyline points="7.5,383.4 28.5,372.6 47.5,360.3 51.5,359.4 67.5,359.4 75.5,357.8 90.5,355.0 100.5,354.5 108.5,355.4 116.5,355.4 121.5,356.5 126.5,358.3 132.5,359.4 142.5,361.3 148.5,362.5 156.5,363.4 163.5,363.4 164.5,364.5 174.5,366.5 184.5,366.7 191.0,368.5 196.5,368.7 204.3,369.0 214.5,373.0 218.5,375.4 229.5,380.5 237.9,382.4 244.0,384.4 263.2,392.7 265.9,393.6 286.5,403.6 292.5,405.8 312.5,415.4 321.5,420.0 333.3,424.2 345.5,428.0 349.3,428.5 371.5,428.5 378.1,426.6 388.5,422.1 391.5,420.0 405.5,414.5 419.5,409.0 433.5,402.0 447.5,392.0 459.5,385.0 472.1,374.5 484.5,367.0 495.1,359.5 503.5,353.8 518.9,346.1 534.3,343.4 549.5,339.2 565.0,336.1 580.5,333.0 586.5,332.8 606.2,330.6 612.5,329.5 620.5,329.5 624.5,330.8 664.5,330.8 668.5,329.5 676.5,328.8 705.5,323.5 726.3,319.3 744.2,316.0 762.1,310.1 772.5,307.0 788.2,301.4 813.3,291.1 831.2,285.3 849.1,280.4 868.5,275.0 892.5,269.3 913.8,263.0 927.9,259.1 942.0,255.6 956.0,253.1 964.5,251.3 980.2,251.2 983.5,252.5 987.3,252.5 990.5,251.2 1002.5,251.2 1005.5,250.4 1011.5,249.3 1020.5,249.3 1024.5,250.4 1029.5,251.4 1032.5,252.5 1068.2,252.4 1070.5,253.4 1090.5,253.4 1092.5,252.4 1106.5,252.4 1108.5,251.4 1114.2,250.4 1118.5,249.4 1123.5,248.4 1131.0,247.3 1138.5,246.5 1144.5,245.4 1150.5,244.4 1156.5,243.3 1162.4,241.4 1172.2,239.4 1182.1,237.2 1191.9,235.0 1201.8,233.0 1211.7,231.7 1218.5,230.3 1252.2,230.5 1256.5,231.5 1265.5,231.5 1270.5,232.5 1276.5,233.4 1283.5,234.4 1287.5,235.4 1290.5,236.3 1293.5,237.5 1297.3,237.5 1300.5,235.7 1304.5,234.3 1308.5,232.5 1314.5,230.5 1323.6,228.2 1351.5,215.6 1379.5,199.0 1383.9,194.5 1393.3,190.7 1402.8,185.3 1410.8,183.0 1416.2,179.0 1424.3,175.6 1432.3,173.2 1440.5,168.5 1450.5,163.5 1462.0,156.3 1466.5,155.3 1472.5,156.5 1485.3,162.5 1495.8,168.3 1500.5,171.0 1511.0,178.1 1524.1,191.1 1539.3,206.4 1556.7,221.6 1582.8,237.9 1604.5,253.1 1612.7,260.0 1621.9,268.2 1632.1,277.4 1640.3,284.6 1647.5,286.8 1655.5,290.3" fill="none" stroke="#ffa500" stroke-width="1"/>
<rect x="7" y="218" width="1667" height="2" fill="#ff0000"/>
<rect x="7" y="330" width="1667" height="2" fill="#00ff7f"/>
<rect x="7" y="404" width="1667" height="2" fill="#4169e1"/>
<rect x="7" y="478" width="1667" height="2" fill="#4169e1"/>
</g>
<path d="M10 45 L17 45 L13.5 49 Z" fill="#000" shape-rendering="auto"/>
<text x="22" y="51" font-size="9" fill="#000" stroke="#000" stroke-width="0.15" textLength="42.5" lengthAdjust="spacingAndGlyphs">UKOil-,H4</text>
<text x="71" y="51" font-size="9" fill="#000" stroke="#000" stroke-width="0.15" textLength="28" lengthAdjust="spacingAndGlyphs">64.200</text>
<text x="102" y="51" font-size="9" fill="#000" stroke="#000" stroke-width="0.15" textLength="28" lengthAdjust="spacingAndGlyphs">64.200</text>
<text x="133" y="51" font-size="9" fill="#000" stroke="#000" stroke-width="0.15" textLength="28" lengthAdjust="spacingAndGlyphs">64.200</text>
<text x="164" y="51" font-size="9" fill="#000" stroke="#000" stroke-width="0.15" textLength="28" lengthAdjust="spacingAndGlyphs">64.200</text>
<text x="718" y="154" font-size="32" fill="#ff1a1a" font-family="'Liberation Sans', 'Noto Sans CJK SC', sans-serif">多空转折点<tspan font-size="33.5" textLength="35.5" lengthAdjust="spacingAndGlyphs">64</tspan></text>
<g clip-path="url(#cd)">
<rect x="7" y="529" width="1" height="31" fill="#c0c0c0"/>
<rect x="15" y="529" width="1" height="31" fill="#c0c0c0"/>
<rect x="23" y="529" width="1" height="31" fill="#c0c0c0"/>
<rect x="31" y="531" width="1" height="29" fill="#c0c0c0"/>
<rect x="39" y="532" width="1" height="28" fill="#c0c0c0"/>
<rect x="47" y="534" width="1" height="26" fill="#c0c0c0"/>
<rect x="55" y="540" width="1" height="20" fill="#c0c0c0"/>
<rect x="63" y="547" width="1" height="13" fill="#c0c0c0"/>
<rect x="71" y="550" width="1" height="10" fill="#c0c0c0"/>
<rect x="79" y="552" width="1" height="8" fill="#c0c0c0"/>
<rect x="87" y="552" width="1" height="8" fill="#c0c0c0"/>
<rect x="95" y="553" width="1" height="7" fill="#c0c0c0"/>
<rect x="103" y="554" width="1" height="6" fill="#c0c0c0"/>
<rect x="111" y="554" width="1" height="6" fill="#c0c0c0"/>
<rect x="119" y="552" width="1" height="8" fill="#c0c0c0"/>
<rect x="127" y="557" width="1" height="3" fill="#c0c0c0"/>
<rect x="135" y="557" width="1" height="3" fill="#c0c0c0"/>
<rect x="143" y="559" width="1" height="1" fill="#c0c0c0"/>
<rect x="151" y="559" width="1" height="1" fill="#c0c0c0"/>
<rect x="159" y="559" width="1" height="1" fill="#c0c0c0"/>
<rect x="167" y="559" width="1" height="1" fill="#c0c0c0"/>
<rect x="175" y="559" width="1" height="2" fill="#c0c0c0"/>
<rect x="215" y="559" width="1" height="15" fill="#c0c0c0"/>
<rect x="223" y="559" width="1" height="25" fill="#c0c0c0"/>
<rect x="231" y="559" width="1" height="32" fill="#c0c0c0"/>
<rect x="239" y="559" width="1" height="35" fill="#c0c0c0"/>
<rect x="247" y="559" width="1" height="37" fill="#c0c0c0"/>
<rect x="255" y="559" width="1" height="35" fill="#c0c0c0"/>
<rect x="263" y="559" width="1" height="37" fill="#c0c0c0"/>
<rect x="271" y="559" width="1" height="40" fill="#c0c0c0"/>
<rect x="279" y="559" width="1" height="41" fill="#c0c0c0"/>
<rect x="287" y="559" width="1" height="42" fill="#c0c0c0"/>
<rect x="295" y="559" width="1" height="41" fill="#c0c0c0"/>
<rect x="303" y="559" width="1" height="42" fill="#c0c0c0"/>
<rect x="311" y="559" width="1" height="41" fill="#c0c0c0"/>
<rect x="319" y="559" width="1" height="40" fill="#c0c0c0"/>
<rect x="327" y="559" width="1" height="37" fill="#c0c0c0"/>
<rect x="335" y="559" width="1" height="33" fill="#c0c0c0"/>
<rect x="343" y="559" width="1" height="31" fill="#c0c0c0"/>
<rect x="351" y="559" width="1" height="23" fill="#c0c0c0"/>
<rect x="359" y="559" width="1" height="9" fill="#c0c0c0"/>
<rect x="375" y="552" width="1" height="8" fill="#c0c0c0"/>
<rect x="383" y="547" width="1" height="13" fill="#c0c0c0"/>
<rect x="391" y="543" width="1" height="17" fill="#c0c0c0"/>
<rect x="399" y="537" width="1" height="23" fill="#c0c0c0"/>
<rect x="407" y="532" width="1" height="28" fill="#c0c0c0"/>
<rect x="415" y="530" width="1" height="30" fill="#c0c0c0"/>
<rect x="423" y="529" width="1" height="31" fill="#c0c0c0"/>
<rect x="431" y="529" width="1" height="31" fill="#c0c0c0"/>
<rect x="439" y="529" width="1" height="31" fill="#c0c0c0"/>
<rect x="447" y="528" width="1" height="32" fill="#c0c0c0"/>
<rect x="455" y="522" width="1" height="38" fill="#c0c0c0"/>
<rect x="463" y="518" width="1" height="42" fill="#c0c0c0"/>
<rect x="471" y="515" width="1" height="45" fill="#c0c0c0"/>
<rect x="479" y="515" width="1" height="45" fill="#c0c0c0"/>
<rect x="487" y="514" width="1" height="46" fill="#c0c0c0"/>
<rect x="495" y="515" width="1" height="45" fill="#c0c0c0"/>
<rect x="503" y="518" width="1" height="42" fill="#c0c0c0"/>
<rect x="511" y="519" width="1" height="41" fill="#c0c0c0"/>
<rect x="519" y="520" width="1" height="40" fill="#c0c0c0"/>
<rect x="527" y="522" width="1" height="38" fill="#c0c0c0"/>
<rect x="535" y="523" width="1" height="37" fill="#c0c0c0"/>
<rect x="543" y="525" width="1" height="35" fill="#c0c0c0"/>
<rect x="551" y="528" width="1" height="32" fill="#c0c0c0"/>
<rect x="559" y="528" width="1" height="32" fill="#c0c0c0"/>
<rect x="567" y="528" width="1" height="32" fill="#c0c0c0"/>
<rect x="575" y="530" width="1" height="30" fill="#c0c0c0"/>
<rect x="583" y="533" width="1" height="27" fill="#c0c0c0"/>
<rect x="591" y="536" width="1" height="24" fill="#c0c0c0"/>
<rect x="599" y="538" width="1" height="22" fill="#c0c0c0"/>
<rect x="607" y="543" width="1" height="17" fill="#c0c0c0"/>
<rect x="615" y="545" width="1" height="15" fill="#c0c0c0"/>
<rect x="623" y="546" width="1" height="14" fill="#c0c0c0"/>
<rect x="631" y="547" width="1" height="13" fill="#c0c0c0"/>
<rect x="639" y="547" width="1" height="13" fill="#c0c0c0"/>
<rect x="647" y="547" width="1" height="13" fill="#c0c0c0"/>
<rect x="655" y="545" width="1" height="15" fill="#c0c0c0"/>
<rect x="663" y="545" width="1" height="15" fill="#c0c0c0"/>
<rect x="671" y="543" width="1" height="17" fill="#c0c0c0"/>
<rect x="679" y="541" width="1" height="19" fill="#c0c0c0"/>
<rect x="687" y="539" width="1" height="21" fill="#c0c0c0"/>
<rect x="695" y="536" width="1" height="24" fill="#c0c0c0"/>
<rect x="703" y="534" width="1" height="26" fill="#c0c0c0"/>
<rect x="711" y="533" width="1" height="27" fill="#c0c0c0"/>
<rect x="719" y="533" width="1" height="27" fill="#c0c0c0"/>
<rect x="727" y="533" width="1" height="27" fill="#c0c0c0"/>
<rect x="735" y="533" width="1" height="27" fill="#c0c0c0"/>
<rect x="743" y="533" width="1" height="27" fill="#c0c0c0"/>
<rect x="751" y="531" width="1" height="29" fill="#c0c0c0"/>
<rect x="759" y="529" width="1" height="31" fill="#c0c0c0"/>
<rect x="767" y="529" width="1" height="31" fill="#c0c0c0"/>
<rect x="775" y="530" width="1" height="30" fill="#c0c0c0"/>
<rect x="783" y="530" width="1" height="30" fill="#c0c0c0"/>
<rect x="791" y="530" width="1" height="30" fill="#c0c0c0"/>
<rect x="799" y="530" width="1" height="30" fill="#c0c0c0"/>
<rect x="807" y="528" width="1" height="32" fill="#c0c0c0"/>
<rect x="815" y="525" width="1" height="35" fill="#c0c0c0"/>
<rect x="823" y="525" width="1" height="35" fill="#c0c0c0"/>
<rect x="831" y="527" width="1" height="33" fill="#c0c0c0"/>
<rect x="839" y="527" width="1" height="33" fill="#c0c0c0"/>
<rect x="847" y="528" width="1" height="32" fill="#c0c0c0"/>
<rect x="855" y="526" width="1" height="34" fill="#c0c0c0"/>
<rect x="863" y="526" width="1" height="34" fill="#c0c0c0"/>
<rect x="871" y="525" width="1" height="35" fill="#c0c0c0"/>
<rect x="879" y="526" width="1" height="34" fill="#c0c0c0"/>
<rect x="887" y="528" width="1" height="32" fill="#c0c0c0"/>
<rect x="895" y="529" width="1" height="31" fill="#c0c0c0"/>
<rect x="903" y="527" width="1" height="33" fill="#c0c0c0"/>
<rect x="911" y="527" width="1" height="33" fill="#c0c0c0"/>
<rect x="919" y="527" width="1" height="33" fill="#c0c0c0"/>
<rect x="927" y="527" width="1" height="33" fill="#c0c0c0"/>
<rect x="935" y="527" width="1" height="33" fill="#c0c0c0"/>
<rect x="943" y="529" width="1" height="31" fill="#c0c0c0"/>
<rect x="951" y="533" width="1" height="27" fill="#c0c0c0"/>
<rect x="959" y="537" width="1" height="23" fill="#c0c0c0"/>
<rect x="967" y="540" width="1" height="20" fill="#c0c0c0"/>
<rect x="975" y="542" width="1" height="18" fill="#c0c0c0"/>
<rect x="983" y="545" width="1" height="15" fill="#c0c0c0"/>
<rect x="991" y="547" width="1" height="13" fill="#c0c0c0"/>
<rect x="999" y="547" width="1" height="13" fill="#c0c0c0"/>
<rect x="1007" y="549" width="1" height="11" fill="#c0c0c0"/>
<rect x="1015" y="548" width="1" height="12" fill="#c0c0c0"/>
<rect x="1023" y="553" width="1" height="7" fill="#c0c0c0"/>
<rect x="1031" y="557" width="1" height="3" fill="#c0c0c0"/>
<rect x="1039" y="559" width="1" height="1" fill="#c0c0c0"/>
<rect x="1047" y="558" width="1" height="2" fill="#c0c0c0"/>
<rect x="1055" y="556" width="1" height="4" fill="#c0c0c0"/>
<rect x="1063" y="554" width="1" height="6" fill="#c0c0c0"/>
<rect x="1071" y="553" width="1" height="7" fill="#c0c0c0"/>
<rect x="1079" y="553" width="1" height="7" fill="#c0c0c0"/>
<rect x="1087" y="549" width="1" height="11" fill="#c0c0c0"/>
<rect x="1095" y="547" width="1" height="13" fill="#c0c0c0"/>
<rect x="1103" y="545" width="1" height="15" fill="#c0c0c0"/>
<rect x="1111" y="543" width="1" height="17" fill="#c0c0c0"/>
<rect x="1119" y="541" width="1" height="19" fill="#c0c0c0"/>
<rect x="1127" y="540" width="1" height="20" fill="#c0c0c0"/>
<rect x="1135" y="540" width="1" height="20" fill="#c0c0c0"/>
<rect x="1143" y="540" width="1" height="20" fill="#c0c0c0"/>
<rect x="1151" y="540" width="1" height="20" fill="#c0c0c0"/>
<rect x="1159" y="540" width="1" height="20" fill="#c0c0c0"/>
<rect x="1167" y="540" width="1" height="20" fill="#c0c0c0"/>
<rect x="1175" y="540" width="1" height="20" fill="#c0c0c0"/>
<rect x="1183" y="540" width="1" height="20" fill="#c0c0c0"/>
<rect x="1191" y="541" width="1" height="19" fill="#c0c0c0"/>
<rect x="1199" y="544" width="1" height="16" fill="#c0c0c0"/>
<rect x="1207" y="546" width="1" height="14" fill="#c0c0c0"/>
<rect x="1215" y="548" width="1" height="12" fill="#c0c0c0"/>
<rect x="1223" y="550" width="1" height="10" fill="#c0c0c0"/>
<rect x="1231" y="555" width="1" height="5" fill="#c0c0c0"/>
<rect x="1239" y="555" width="1" height="5" fill="#c0c0c0"/>
<rect x="1247" y="559" width="1" height="1" fill="#c0c0c0"/>
<rect x="1255" y="559" width="1" height="1" fill="#c0c0c0"/>
<rect x="1263" y="559" width="1" height="1" fill="#c0c0c0"/>
<rect x="1271" y="559" width="1" height="3" fill="#c0c0c0"/>
<rect x="1279" y="559" width="1" height="7" fill="#c0c0c0"/>
<rect x="1287" y="559" width="1" height="7" fill="#c0c0c0"/>
<rect x="1295" y="559" width="1" height="7" fill="#c0c0c0"/>
<rect x="1303" y="553" width="1" height="7" fill="#c0c0c0"/>
<rect x="1311" y="542" width="1" height="18" fill="#c0c0c0"/>
<rect x="1319" y="531" width="1" height="29" fill="#c0c0c0"/>
<rect x="1327" y="528" width="1" height="32" fill="#c0c0c0"/>
<rect x="1335" y="523" width="1" height="37" fill="#c0c0c0"/>
<rect x="1343" y="518" width="1" height="42" fill="#c0c0c0"/>
<rect x="1351" y="509" width="1" height="51" fill="#c0c0c0"/>
<rect x="1359" y="497" width="1" height="63" fill="#c0c0c0"/>
<rect x="1367" y="491" width="1" height="69" fill="#c0c0c0"/>
<rect x="1375" y="491" width="1" height="69" fill="#c0c0c0"/>
<rect x="1383" y="495" width="1" height="65" fill="#c0c0c0"/>
<rect x="1391" y="502" width="1" height="58" fill="#c0c0c0"/>
<rect x="1399" y="508" width="1" height="52" fill="#c0c0c0"/>
<rect x="1407" y="515" width="1" height="45" fill="#c0c0c0"/>
<rect x="1415" y="518" width="1" height="42" fill="#c0c0c0"/>
<rect x="1423" y="524" width="1" height="36" fill="#c0c0c0"/>
<rect x="1431" y="530" width="1" height="30" fill="#c0c0c0"/>
<rect x="1439" y="534" width="1" height="26" fill="#c0c0c0"/>
<rect x="1447" y="535" width="1" height="25" fill="#c0c0c0"/>
<rect x="1455" y="532" width="1" height="28" fill="#c0c0c0"/>
<rect x="1463" y="535" width="1" height="25" fill="#c0c0c0"/>
<rect x="1471" y="541" width="1" height="19" fill="#c0c0c0"/>
<rect x="1479" y="559" width="1" height="1" fill="#c0c0c0"/>
<rect x="1487" y="559" width="1" height="10" fill="#c0c0c0"/>
<rect x="1495" y="559" width="1" height="21" fill="#c0c0c0"/>
<rect x="1503" y="559" width="1" height="30" fill="#c0c0c0"/>
<rect x="1511" y="559" width="1" height="35" fill="#c0c0c0"/>
<rect x="1519" y="559" width="1" height="41" fill="#c0c0c0"/>
<rect x="1527" y="559" width="1" height="49" fill="#c0c0c0"/>
<rect x="1535" y="559" width="1" height="52" fill="#c0c0c0"/>
<rect x="1543" y="559" width="1" height="55" fill="#c0c0c0"/>
<rect x="1551" y="559" width="1" height="57" fill="#c0c0c0"/>
<rect x="1559" y="559" width="1" height="58" fill="#c0c0c0"/>
<rect x="1567" y="559" width="1" height="57" fill="#c0c0c0"/>
<rect x="1575" y="559" width="1" height="57" fill="#c0c0c0"/>
<rect x="1583" y="559" width="1" height="56" fill="#c0c0c0"/>
<rect x="1591" y="559" width="1" height="57" fill="#c0c0c0"/>
<rect x="1599" y="559" width="1" height="57" fill="#c0c0c0"/>
<rect x="1607" y="559" width="1" height="57" fill="#c0c0c0"/>
<rect x="1615" y="559" width="1" height="57" fill="#c0c0c0"/>
<rect x="1623" y="559" width="1" height="57" fill="#c0c0c0"/>
<rect x="1631" y="559" width="1" height="57" fill="#c0c0c0"/>
<rect x="1639" y="559" width="1" height="57" fill="#c0c0c0"/>
<rect x="1647" y="559" width="1" height="57" fill="#c0c0c0"/>
<rect x="1655" y="559" width="1" height="57" fill="#c0c0c0"/>
<polyline points="8.0,531.3 33.0,527.5 50.5,528.8 63.0,532.5 75.5,537.0 88.0,540.5 100.5,544.5 113.0,548.8 125.5,551.3 138.0,553.0 150.5,554.0 163.0,555.5 175.5,557.5 188.0,558.8 200.5,559.5 213.0,560.5 225.5,565.0 238.0,570.5 250.5,577.5 263.0,584.5 275.5,591.3 288.0,596.3 300.5,598.0 313.0,599.5 325.5,599.5 338.0,598.8 350.5,596.3 363.0,591.3 375.5,583.0 388.0,574.5 400.5,565.0 413.0,552.5 420.5,544.5 433.0,538.0 445.5,533.0 458.0,529.5 470.5,525.5 483.0,522.0 495.5,520.0 508.0,517.5 520.5,516.3 533.0,517.0 545.5,518.8 558.0,520.5 570.5,523.8 583.0,525.0 595.5,528.0 608.0,531.3 620.5,533.8 633.0,537.5 645.5,541.3 658.0,543.8 670.5,544.5 683.0,543.8 695.5,542.5 708.0,539.5 720.5,538.0 733.0,534.5 745.5,533.8 758.0,532.0 770.5,531.3 783.0,530.5 795.5,530.5 808.0,528.8 820.5,527.5 833.0,527.0 850.5,527.0 865.5,526.3 877.5,525.5 890.5,526.5 950.5,526.5 965.5,529.0 978.0,531.8 990.5,535.0 1003.0,539.3 1015.5,542.0 1028.0,545.5 1040.5,548.8 1053.0,551.3 1065.5,552.5 1078.0,554.0 1090.5,554.0 1103.0,552.5 1115.5,548.8 1128.0,547.0 1140.5,543.8 1153.0,542.0 1165.5,540.0 1178.0,539.5 1203.0,539.5 1215.5,541.0 1228.0,542.5 1240.5,545.5 1253.0,548.8 1260.5,551.3 1273.0,553.8 1285.5,557.5 1298.0,561.3 1310.5,559.5 1323.0,555.0 1335.5,548.8 1348.0,540.0 1360.5,528.8 1373.0,515.0 1385.5,508.0 1398.0,503.8 1410.5,502.5 1418.0,502.5 1430.5,506.3 1448.0,516.3 1460.5,522.5 1473.0,528.8 1480.5,533.0 1498.0,548.8 1510.5,556.3 1523.0,568.8 1535.5,583.8 1548.0,596.3 1560.5,605.0 1573.0,610.0 1585.5,614.5 1598.0,616.3 1623.0,616.3 1635.5,615.0 1653.5,615.0" fill="none" stroke="#ff0000" stroke-width="1" stroke-dasharray="3,3"/>
</g>
<text x="11" y="495" font-size="9" fill="#000" stroke="#000" stroke-width="0.15" letter-spacing="0.19">MACD(12,26,9) -0.7265 -0.7096</text>
<g clip-path="url(#cr)">
<line x1="7" y1="667.5" x2="1674" y2="667.5" stroke="#c0c0c0" stroke-dasharray="3,3"/>
<line x1="7" y1="719.5" x2="1674" y2="719.5" stroke="#c0c0c0" stroke-dasharray="3,3"/>
<polyline points="7.5,680.0 15.5,681.3 23.5,678.0 31.5,688.0 39.5,684.5 47.5,682.5 55.5,701.3 63.5,700.0 71.5,698.0 79.5,692.5 87.5,690.5 95.5,693.0 103.5,692.0 111.5,689.5 119.5,687.5 127.5,700.0 135.5,693.0 143.5,692.5 151.5,697.0 159.5,698.3 167.5,697.5 175.5,698.3 183.5,687.5 191.5,693.0 199.5,696.3 207.5,694.5 215.5,722.0 223.5,722.0 231.5,715.0 239.5,711.3 247.5,712.5 255.5,699.5 263.5,709.5 271.5,709.5 279.5,710.5 287.5,708.8 295.5,704.5 303.5,711.3 311.5,706.3 319.5,704.5 327.5,700.5 335.5,699.5 343.5,698.3 351.5,686.3 359.5,674.5 367.5,677.5 375.5,677.5 383.5,678.8 391.5,680.5 399.5,672.5 407.5,674.5 415.5,676.3 423.5,677.8 431.5,681.3 439.5,679.5 447.5,677.0 455.5,666.3 463.5,668.3 471.5,667.5 479.5,671.3 487.5,671.3 495.5,671.3 503.5,683.0 511.5,677.5 519.5,676.3 527.5,679.5 535.5,678.0 543.5,680.0 551.5,685.0 559.5,678.0 567.5,676.3 575.5,683.0 583.5,687.0 591.5,687.0 599.5,686.3 607.5,699.5 615.5,691.3 623.5,688.8 631.5,687.5 639.5,687.0 647.5,683.0 655.5,679.0 663.5,681.5 671.5,678.0 679.5,675.0 687.5,672.0 695.5,669.5 703.5,667.5 711.5,673.3 719.5,672.5 727.5,674.5 735.5,672.5 743.5,669.5 751.5,665.0 759.5,662.5 767.5,669.5 775.5,673.0 783.5,671.3 791.5,676.3 799.5,670.0 807.5,661.3 815.5,660.5 823.5,673.0 831.5,675.0 839.5,675.0 847.5,671.0 855.5,667.5 863.5,667.5 871.5,668.3 879.5,668.3 887.5,673.0 895.5,669.5 903.5,662.5 911.5,667.0 919.5,665.0 927.5,665.0 935.5,669.5 943.5,678.8 951.5,689.5 959.5,689.5 967.5,688.0 975.5,686.3 983.5,693.0 991.5,693.0 999.5,682.5 1007.5,691.3 1015.5,680.5 1023.5,703.3 1031.5,703.3 1039.5,698.0 1047.5,689.5 1055.5,687.0 1063.5,683.8 1071.5,687.5 1079.5,687.5 1087.5,676.3 1095.5,678.8 1103.5,677.0 1111.5,676.3 1119.5,673.0 1127.5,681.3 1135.5,678.3 1143.5,680.0 1151.5,680.0 1159.5,678.0 1167.5,675.5 1175.5,681.3 1183.5,672.5 1191.5,690.0 1199.5,692.0 1207.5,691.3 1215.5,691.3 1223.5,692.5 1231.5,706.3 1239.5,692.5 1247.5,703.0 1255.5,699.5 1263.5,692.5 1271.5,700.5 1279.5,704.5 1287.5,697.5 1295.5,695.5 1303.5,669.5 1311.5,668.0 1319.5,665.0 1327.5,678.0 1335.5,674.5 1343.5,673.3 1351.5,666.3 1359.5,660.5 1367.5,667.5 1375.5,675.0 1383.5,683.8 1391.5,688.0 1399.5,687.5 1407.5,692.0 1415.5,686.3 1423.5,692.0 1431.5,694.5 1439.5,692.0 1447.5,688.0 1455.5,681.3 1463.5,689.5 1471.5,695.5 1479.5,712.0 1487.5,707.5 1495.5,711.3 1503.5,709.5 1511.5,709.5 1519.5,711.3 1527.5,713.0 1535.5,712.5 1543.5,713.3 1551.5,714.0 1559.5,712.5 1567.5,709.5 1575.5,710.5 1583.5,713.3 1591.5,712.5 1599.5,714.0 1607.5,712.5 1615.5,712.5 1623.5,713.8 1631.5,719.0 1639.5,721.3 1647.5,719.5 1655.5,719.5" fill="none" stroke="#1e90ff" stroke-width="1"/>
</g>
<text x="11" y="640" font-size="9" fill="#000" stroke="#000" stroke-width="0.15" letter-spacing="0.17">RSI(14) 30.0650</text>
<rect x="6" y="39" width="1669" height="1" fill="#000"/>
<rect x="6" y="480" width="1669" height="1" fill="#000"/>
<rect x="6" y="39" width="1" height="442" fill="#000"/>
<rect x="1674" y="39" width="1" height="442" fill="#000"/>
<rect x="6" y="482" width="1669" height="1" fill="#000"/>
<rect x="6" y="625" width="1669" height="1" fill="#000"/>
<rect x="6" y="482" width="1" height="144" fill="#000"/>
<rect x="1674" y="482" width="1" height="144" fill="#000"/>
<rect x="6" y="627" width="1669" height="1" fill="#000"/>
<rect x="6" y="758" width="1669" height="1" fill="#000"/>
<rect x="6" y="627" width="1" height="132" fill="#000"/>
<rect x="1674" y="627" width="1" height="132" fill="#000"/>
<rect x="6" y="39" width="1" height="720" fill="#000"/>
<rect x="1674" y="39" width="1" height="720" fill="#000"/>
<rect x="1675" y="48" width="2" height="1" fill="#000"/>
<text x="1680" y="52" font-size="9" fill="#000" stroke="#000" stroke-width="0.15">71.600</text>
<rect x="1675" y="81" width="2" height="1" fill="#000"/>
<text x="1680" y="85" font-size="9" fill="#000" stroke="#000" stroke-width="0.15">70.725</text>
<rect x="1675" y="114" width="2" height="1" fill="#000"/>
<text x="1680" y="118" font-size="9" fill="#000" stroke="#000" stroke-width="0.15">69.825</text>
<rect x="1675" y="147" width="2" height="1" fill="#000"/>
<text x="1680" y="151" font-size="9" fill="#000" stroke="#000" stroke-width="0.15">68.950</text>
<rect x="1675" y="180" width="2" height="1" fill="#000"/>
<text x="1680" y="184" font-size="9" fill="#000" stroke="#000" stroke-width="0.15">68.050</text>
<rect x="1675" y="213" width="2" height="1" fill="#000"/>
<text x="1680" y="217" font-size="9" fill="#000" stroke="#000" stroke-width="0.15">67.175</text>
<rect x="1675" y="246" width="2" height="1" fill="#000"/>
<text x="1680" y="250" font-size="9" fill="#000" stroke="#000" stroke-width="0.15">66.275</text>
<rect x="1675" y="279" width="2" height="1" fill="#000"/>
<text x="1680" y="283" font-size="9" fill="#000" stroke="#000" stroke-width="0.15">65.400</text>
<rect x="1675" y="312" width="2" height="1" fill="#000"/>
<text x="1680" y="316" font-size="9" fill="#000" stroke="#000" stroke-width="0.15">64.500</text>
<rect x="1675" y="345" width="2" height="1" fill="#000"/>
<text x="1680" y="349" font-size="9" fill="#000" stroke="#000" stroke-width="0.15">63.625</text>
<rect x="1675" y="378" width="2" height="1" fill="#000"/>
<text x="1680" y="382" font-size="9" fill="#000" stroke="#000" stroke-width="0.15">62.725</text>
<rect x="1675" y="411" width="2" height="1" fill="#000"/>
<text x="1680" y="415" font-size="9" fill="#000" stroke="#000" stroke-width="0.15">61.850</text>
<rect x="1675" y="444" width="2" height="1" fill="#000"/>
<text x="1680" y="448" font-size="9" fill="#000" stroke="#000" stroke-width="0.15">60.950</text>
<rect x="1676" y="213" width="36" height="11" fill="#ff0000"/>
<text x="1680" y="222" font-size="9" fill="#fff" stroke="#fff" stroke-width="0.15">67.000</text>
<rect x="1676" y="318" width="36" height="11" fill="#000000"/>
<text x="1680" y="327" font-size="9" fill="#fff" stroke="#fff" stroke-width="0.15">64.200</text>
<rect x="1676" y="325" width="36" height="11" fill="#00ff7f"/>
<text x="1680" y="334" font-size="9" fill="#fff" stroke="#fff" stroke-width="0.15">64.000</text>
<rect x="1676" y="399" width="36" height="11" fill="#4169e1"/>
<text x="1680" y="408" font-size="9" fill="#fff" stroke="#fff" stroke-width="0.15">62.000</text>
<rect x="1676" y="473" width="36" height="11" fill="#4169e1"/>
<text x="1680" y="482" font-size="9" fill="#fff" stroke="#fff" stroke-width="0.15">60.000</text>
<rect x="1675" y="483" width="2" height="1" fill="#000"/>
<text x="1680" y="493" font-size="9" fill="#000" stroke="#000" stroke-width="0.15">0.9452</text>
<rect x="1675" y="559" width="2" height="1" fill="#000"/>
<text x="1680" y="563" font-size="9" fill="#000" stroke="#000" stroke-width="0.15">0.00</text>
<rect x="1675" y="624" width="2" height="1" fill="#000"/>
<text x="1676" y="622" font-size="9" fill="#000" stroke="#000" stroke-width="0.15">-0.8218</text>
<rect x="1675" y="629" width="2" height="1" fill="#000"/>
<text x="1678" y="638" font-size="9" fill="#000" stroke="#000" stroke-width="0.15">100</text>
<rect x="1675" y="667" width="2" height="1" fill="#000"/>
<text x="1678" y="672" font-size="9" fill="#000" stroke="#000" stroke-width="0.15">70</text>
<rect x="1675" y="719" width="2" height="1" fill="#000"/>
<text x="1678" y="723" font-size="9" fill="#000" stroke="#000" stroke-width="0.15">30</text>
<rect x="1675" y="757" width="2" height="1" fill="#000"/>
<text x="1678" y="756" font-size="9" fill="#000" stroke="#000" stroke-width="0.15">0</text>
<rect x="7" y="759" width="1" height="3" fill="#000"/>
<text x="6" y="771" font-size="9" fill="#000" stroke="#000" stroke-width="0.15" letter-spacing="0.3">24 Nov 2019</text>
<rect x="71" y="759" width="1" height="3" fill="#000"/>
<text x="70" y="771" font-size="9" fill="#000" stroke="#000" stroke-width="0.15" letter-spacing="0.3">26 Nov 09:00</text>
<rect x="135" y="759" width="1" height="3" fill="#000"/>
<text x="134" y="771" font-size="9" fill="#000" stroke="#000" stroke-width="0.15" letter-spacing="0.3">27 Nov 17:00</text>
<rect x="199" y="759" width="1" height="3" fill="#000"/>
<text x="198" y="771" font-size="9" fill="#000" stroke="#000" stroke-width="0.15" letter-spacing="0.3">29 Nov 05:00</text>
<rect x="263" y="759" width="1" height="3" fill="#000"/>
<text x="262" y="771" font-size="9" fill="#000" stroke="#000" stroke-width="0.15" letter-spacing="0.3">2 Dec 12:00</text>
<rect x="327" y="759" width="1" height="3" fill="#000"/>
<text x="326" y="771" font-size="9" fill="#000" stroke="#000" stroke-width="0.15" letter-spacing="0.3">3 Dec 21:00</text>
<rect x="391" y="759" width="1" height="3" fill="#000"/>
<text x="390" y="771" font-size="9" fill="#000" stroke="#000" stroke-width="0.15" letter-spacing="0.3">5 Dec 05:00</text>
<rect x="455" y="759" width="1" height="3" fill="#000"/>
<text x="454" y="771" font-size="9" fill="#000" stroke="#000" stroke-width="0.15" letter-spacing="0.3">6 Dec 13:00</text>
<rect x="519" y="759" width="1" height="3" fill="#000"/>
<text x="518" y="771" font-size="9" fill="#000" stroke="#000" stroke-width="0.15" letter-spacing="0.3">9 Dec 16:00</text>
<rect x="583" y="759" width="1" height="3" fill="#000"/>
<text x="582" y="771" font-size="9" fill="#000" stroke="#000" stroke-width="0.15" letter-spacing="0.3">11 Dec 01:00</text>
<rect x="647" y="759" width="1" height="3" fill="#000"/>
<text x="646" y="771" font-size="9" fill="#000" stroke="#000" stroke-width="0.15" letter-spacing="0.3">12 Dec 09:00</text>
<rect x="711" y="759" width="1" height="3" fill="#000"/>
<text x="710" y="771" font-size="9" fill="#000" stroke="#000" stroke-width="0.15" letter-spacing="0.3">13 Dec 17:00</text>
<rect x="775" y="759" width="1" height="3" fill="#000"/>
<text x="774" y="771" font-size="9" fill="#000" stroke="#000" stroke-width="0.15" letter-spacing="0.3">16 Dec 20:00</text>
<rect x="839" y="759" width="1" height="3" fill="#000"/>
<text x="838" y="771" font-size="9" fill="#000" stroke="#000" stroke-width="0.15" letter-spacing="0.3">18 Dec 05:00</text>
<rect x="903" y="759" width="1" height="3" fill="#000"/>
<text x="902" y="771" font-size="9" fill="#000" stroke="#000" stroke-width="0.15" letter-spacing="0.3">19 Dec 13:00</text>
<rect x="967" y="759" width="1" height="3" fill="#000"/>
<text x="966" y="771" font-size="9" fill="#000" stroke="#000" stroke-width="0.15" letter-spacing="0.3">20 Dec 21:00</text>
<rect x="1031" y="759" width="1" height="3" fill="#000"/>
<text x="1030" y="771" font-size="9" fill="#000" stroke="#000" stroke-width="0.15" letter-spacing="0.3">24 Dec 05:00</text>
<rect x="1095" y="759" width="1" height="3" fill="#000"/>
<text x="1094" y="771" font-size="9" fill="#000" stroke="#000" stroke-width="0.15" letter-spacing="0.3">26 Dec 17:00</text>
<rect x="1159" y="759" width="1" height="3" fill="#000"/>
<text x="1158" y="771" font-size="9" fill="#000" stroke="#000" stroke-width="0.15" letter-spacing="0.3">29 Dec 23:00</text>
<rect x="1223" y="759" width="1" height="3" fill="#000"/>
<text x="1222" y="771" font-size="9" fill="#000" stroke="#000" stroke-width="0.15" letter-spacing="0.3">31 Dec 05:00</text>
<rect x="1287" y="759" width="1" height="3" fill="#000"/>
<text x="1286" y="771" font-size="9" fill="#000" stroke="#000" stroke-width="0.15" letter-spacing="0.3">2 Jan 17:00</text>
<rect x="1351" y="759" width="1" height="3" fill="#000"/>
<text x="1350" y="771" font-size="9" fill="#000" stroke="#000" stroke-width="0.15" letter-spacing="0.3">5 Jan 23:00</text>
<rect x="1415" y="759" width="1" height="3" fill="#000"/>
<text x="1414" y="771" font-size="9" fill="#000" stroke="#000" stroke-width="0.15" letter-spacing="0.3">7 Jan 05:00</text>
<rect x="1479" y="759" width="1" height="3" fill="#000"/>
<text x="1478" y="771" font-size="9" fill="#000" stroke="#000" stroke-width="0.15" letter-spacing="0.3">8 Jan 13:00</text>
<rect x="1543" y="759" width="1" height="3" fill="#000"/>
<text x="1542" y="771" font-size="9" fill="#000" stroke="#000" stroke-width="0.15" letter-spacing="0.3">9 Jan 21:00</text>
<rect x="1607" y="759" width="1" height="3" fill="#000"/>
<text x="1606" y="771" font-size="9" fill="#000" stroke="#000" stroke-width="0.15" letter-spacing="0.3">13 Jan 00:00</text>
</svg>
</body></html>
